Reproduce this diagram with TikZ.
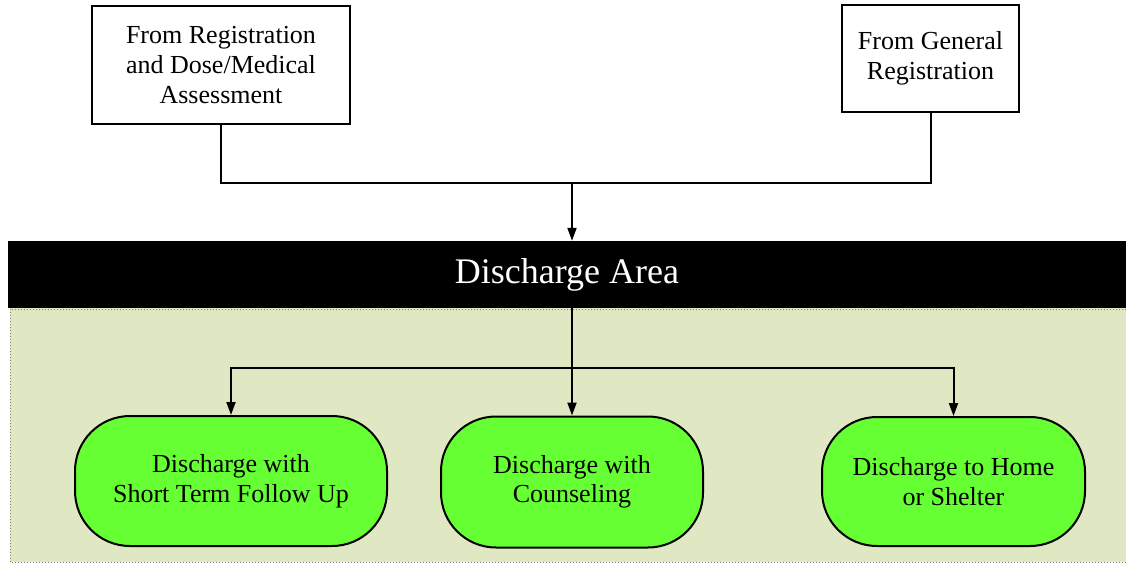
\documentclass[tikz,border=0pt]{standalone}
\usepackage{fontspec}
\setmainfont{Liberation Serif}
\usetikzlibrary{arrows.meta}
\definecolor{areagreen}{RGB}{223,231,195}
\definecolor{stepgreen}{RGB}{102,255,51}
\tikzset{
  srcbox/.style={draw, line width=2pt, fill=white, align=center,
    font=\fontsize{26}{30}\selectfont},
  endbox/.style={draw, line width=2pt, fill=stepgreen, rounded corners=55pt,
    align=center, font=\fontsize{26}{29.5}\selectfont},
  flow/.style={line width=2pt, -{Triangle[length=13pt,width=9pt]}},
  link/.style={line width=2pt}
}
\begin{document}
\begin{tikzpicture}[x=1pt, y=-1pt]
      \useasboundingbox (0,0) rectangle (1126,565);
      \fill[areagreen] (10,308) rectangle (1126,562);
      \draw[gray, dotted, line width=1pt] (1126,309) -- (10,309) -- (10,562) -- (1126,562);

      \node[srcbox, minimum width=258pt, minimum height=118pt] (regbox) at (221,65)
        {From Registration\\and Dose/Medical\\Assessment};
      \node[srcbox, minimum width=177pt, minimum height=107pt] (genbox) at (930.5,58.5)
        {From General\\Registration};

      \node[fill=black, text=white, inner sep=0pt, minimum width=1118pt, minimum height=67pt,
        font=\fontsize{36}{40}\selectfont] (area) at (567,274.5) {Discharge Area};

      \node[endbox, minimum width=312pt, minimum height=130pt] (followup) at (231,481)
        {Discharge with\\Short Term Follow Up};
      \node[endbox, minimum width=262pt, minimum height=131pt] (counseling) at (572,482)
        {Discharge with\\Counseling};
      \node[endbox, minimum width=263pt, minimum height=129pt] (shelter) at (953.5,481.5)
        {Discharge to Home\\or Shelter};

      \coordinate (join) at (572,183);
      \coordinate (split) at (572,368);

      \draw[link] (regbox.south) |- (join);
      \draw[link] (genbox.south) |- (join);
      \draw[flow] (join) -- (join |- area.north);

      \draw[link] (split |- area.south) -- (split);
      \draw[flow] (split) -- (counseling.north);
      \draw[flow] (split) -| (followup.north);
      \draw[flow] (split) -| (shelter.north);
    \end{tikzpicture}
\end{document}
